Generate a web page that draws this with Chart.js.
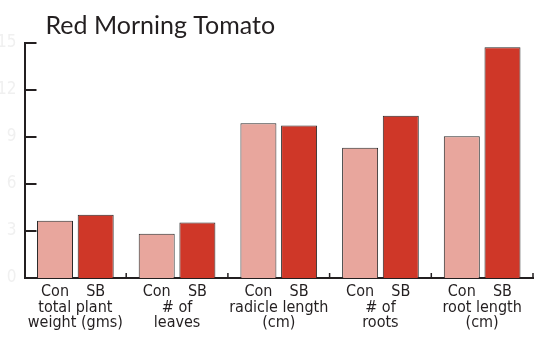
<!DOCTYPE html>
<html>
<head>
<meta charset="utf-8">
<script src="https://cdn.jsdelivr.net/npm/chart.js@4/dist/chart.umd.min.js"></script>
<style>
html,body{margin:0;padding:0;background:#fff;}
#wrap{position:relative;width:553px;height:357px;}
</style>
</head>
<body>
<div id="wrap"><canvas id="c" width="553" height="357"></canvas></div>
<script>
const titleText = "Red Morning Tomato";
const categories = [
  ["total plant", "weight (gms)"],
  ["# of", "leaves"],
  ["radicle length", "(cm)"],
  ["# of", "roots"],
  ["root length", "(cm)"]
];
const seriesNames = ["Con", "SB"];
const conValues = [3.65, 2.82, 9.87, 8.32, 9.04];
const sbValues = [4.03, 3.55, 9.73, 10.36, 14.73];
const yTicks = [0, 3, 6, 9, 12, 15];

const CONDENSED = "'Liberation Sans Narrow', 'DejaVu Sans Condensed', 'Arial Narrow', sans-serif";
const INK = '#231f20';

const decorPlugin = {
  id: 'decor',
  afterDraw(chart) {
    const ctx = chart.ctx;
    const xs = chart.scales.x, ys = chart.scales.y;
    const area = chart.chartArea;
    ctx.save();
    ctx.strokeStyle = INK;
    ctx.lineWidth = 2;
    yTicks.forEach(v => {
      const y = Math.round(ys.getPixelForValue(v));
      ctx.beginPath();
      ctx.moveTo(area.left, y);
      ctx.lineTo(area.left + 12, y);
      ctx.stroke();
    });
    ctx.lineWidth = 1.5;
    for (let i = 0; i < categories.length; i++) {
      const x = xs.getPixelForValue(i + 0.5);
      ctx.beginPath();
      ctx.moveTo(x, area.bottom);
      ctx.lineTo(x, area.bottom - 5);
      ctx.stroke();
    }
    ctx.fillStyle = INK;
    ctx.font = "16px " + CONDENSED;
    ctx.textAlign = 'center';
    ctx.textBaseline = 'middle';
    chart.data.datasets.forEach((ds, di) => {
      chart.getDatasetMeta(di).data.forEach(bar => {
        ctx.fillText(seriesNames[di], bar.x, area.bottom + 14);
      });
    });
    ctx.font = "25px Lato, 'Open Sans', sans-serif";
    ctx.textAlign = 'left';
    ctx.textBaseline = 'alphabetic';
    ctx.fillText(titleText, area.left + 21, 34);
    ctx.restore();
  }
};

new Chart(document.getElementById('c'), {
  type: 'bar',
  data: {
    labels: categories,
    datasets: [
      { label: seriesNames[0], data: conValues, backgroundColor: '#e8a69d', borderColor: '#2a2a2a', borderWidth: 1, borderSkipped: 'bottom' },
      { label: seriesNames[1], data: sbValues, backgroundColor: '#cf3728', borderColor: '#2a2a2a', borderWidth: 1, borderSkipped: 'bottom' }
    ]
  },
  options: {
    responsive: false,
    animation: false,
    devicePixelRatio: 1,
    categoryPercentage: 0.8,
    barPercentage: 0.885,
    layout: { padding: { top: 43, right: 20, left: 0, bottom: 0 } },
    plugins: {
      legend: { display: false },
      title: { display: false },
      tooltip: { enabled: false }
    },
    scales: {
      x: {
        grid: { display: false, drawTicks: false },
        border: { display: true, color: INK, width: 2 },
        ticks: {
          color: INK,
          maxRotation: 0,
          autoSkip: false,
          padding: 22,
          font: { family: CONDENSED, size: 16, lineHeight: '15.5px' }
        },
        afterFit(scale) { scale.height = 79; }
      },
      y: {
        min: 0, max: 15,
        afterBuildTicks(scale) { scale.ticks = yTicks.map(v => ({ value: v })); },
        grid: { display: false, drawTicks: false },
        border: { display: true, color: INK, width: 2 },
        ticks: {
          color: '#f0f0f0',
          padding: 8,
          font: { family: CONDENSED, size: 17 }
        },
        afterFit(scale) { scale.width = 24.5; }
      }
    }
  },
  plugins: [decorPlugin]
});
</script>
</body>
</html>
